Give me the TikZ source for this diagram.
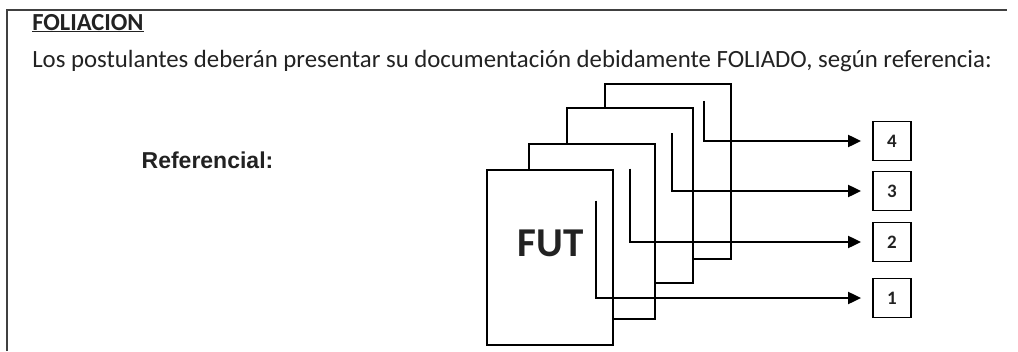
\documentclass[tikz,border=0pt]{standalone}
\usepackage{fontspec}
\setmainfont{Carlito}
\newfontfamily\arialfont{Liberation Sans}
\usetikzlibrary{arrows.meta,positioning}
\definecolor{framegray}{HTML}{404040}
\definecolor{inkgray}{HTML}{222222}

\tikzset{
  page/.style={draw,fill=white,line width=2pt,inner sep=0pt,
    minimum width=126pt,minimum height=175pt},
  folio/.style={draw,line width=1.8pt,inner sep=0pt,
    minimum width=38pt,minimum height=39pt,
    font=\bfseries\fontsize{19}{21}\selectfont},
}

\begin{document}
\begin{tikzpicture}[x=1pt,y=1pt,on grid,line width=2pt,
    >={Triangle[length=13pt,width=12pt]},shorten >=11pt,text=inkgray]
      \useasboundingbox (0,0) rectangle (1018,-351);
      \draw[framegray,line width=2pt] (7,-351) -- (7,-10) -- (1018,-10);

      \node[anchor=base west,font=\bfseries\fontsize{24.5}{28}\selectfont] (title) at (28,-30) {\underline{FOLIACION}};
      \node[anchor=base west,font=\fontsize{24.8}{28}\selectfont] (intro) at (28,-67)
        {Los postulantes deberán presentar su documentación debidamente FOLIADO, según referencia:};
      \node[font=\arialfont\bfseries\fontsize{23}{26}\selectfont] (ref) at (207.5,-160) {Referencial:};

      % pages, back to front
      \node[page] (p4) at (667.5,-171.7) {};
      \node[page] (p3) [below left=23.3pt and 37.5pt of p4] {};
      \node[page] (p2) [below left=36pt and 38pt of p3] {};
      \node[page] (p1) [below left=26pt and 42.3pt of p2] {};
      \node[font=\bfseries\fontsize{41}{44}\selectfont] (fut) [above right=14pt and 1pt of p1] {FUT};

      % folio marks
      \coordinate[below left=32pt and 18pt of p1.north east] (f1);
      \coordinate[below left=26pt and 26pt of p2.north east] (f2);
      \coordinate[below left=26.7pt and 22pt of p3.north east] (f3);
      \coordinate[below left=17.7pt and 27.7pt of p4.north east] (f4);

      \node[folio] (b1) at (892,-298) {1};
      \node[folio] (b2) [above=56pt of b1] {2};
      \node[folio] (b3) [above=51pt of b2] {3};
      \node[folio] (b4) [above=50pt of b3] {4};

      \draw[->] (f1) |- (b1);
      \draw[->] (f2) |- (b2);
      \draw[->] (f3) |- (b3);
      \draw[->] (f4) |- (b4);
    \end{tikzpicture}
\end{document}
